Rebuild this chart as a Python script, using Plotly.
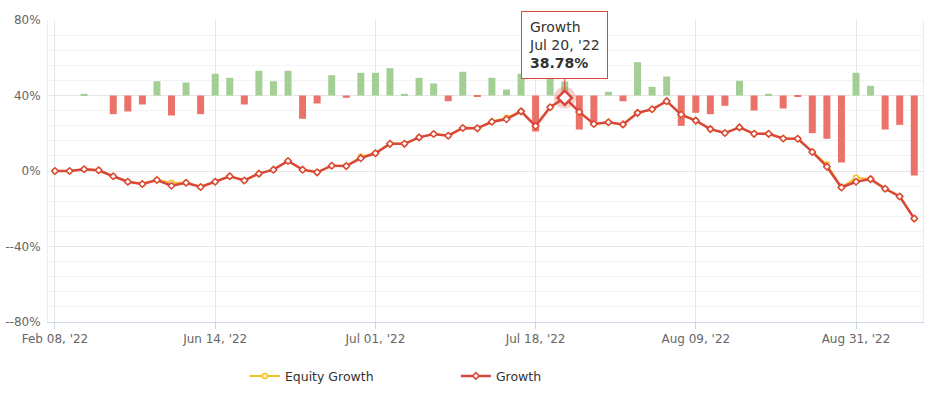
import plotly.graph_objects as go

# ---------------- data ----------------
dates = [
    "Feb 08, '22", "May 31, '22", "Jun 01, '22", "Jun 02, '22", "Jun 03, '22", "Jun 06, '22",
    "Jun 07, '22", "Jun 08, '22", "Jun 09, '22", "Jun 10, '22", "Jun 13, '22",
    "Jun 14, '22", "Jun 15, '22", "Jun 16, '22", "Jun 17, '22", "Jun 21, '22", "Jun 22, '22",
    "Jun 23, '22", "Jun 27, '22", "Jun 28, '22", "Jun 29, '22", "Jun 30, '22",
    "Jul 01, '22", "Jul 04, '22", "Jul 05, '22", "Jul 06, '22", "Jul 07, '22", "Jul 08, '22",
    "Jul 11, '22", "Jul 12, '22", "Jul 13, '22", "Jul 14, '22", "Jul 15, '22",
    "Jul 18, '22", "Jul 19, '22", "Jul 20, '22", "Jul 21, '22", "Jul 22, '22", "Jul 26, '22",
    "Jul 27, '22", "Jul 28, '22", "Aug 01, '22", "Aug 03, '22", "Aug 05, '22",
    "Aug 09, '22", "Aug 10, '22", "Aug 11, '22", "Aug 12, '22", "Aug 15, '22", "Aug 17, '22",
    "Aug 19, '22", "Aug 22, '22", "Aug 24, '22", "Aug 26, '22", "Aug 29, '22",
    "Aug 31, '22", "Sep 01, '22", "Sep 02, '22", "Sep 05, '22", "Sep 06, '22",
]

growth = [
    0.0, 0.0, 0.9, 0.4, -2.8, -5.7, -6.9, -4.8, -7.8, -6.2, -8.5,
    -5.7, -2.8, -5.0, -1.4, 0.7, 5.3, 0.7, -0.7, 2.8, 2.6,
    6.8, 9.4, 14.4, 14.4, 17.8, 19.6, 18.7, 22.8, 22.6, 26.1,
    27.4, 31.6, 23.8, 33.8, 38.78, 31.3, 24.9, 25.8, 24.7, 30.8,
    32.7, 37.0, 29.9, 26.7, 22.2, 20.1, 23.1, 19.7, 19.7, 17.2,
    17.1, 10.1, 2.3, -8.7, -5.7, -4.3, -9.4, -13.5, -25.2,
]

equity_growth = [
    0.0, 0.0, 0.9, 0.4, -2.8, -5.7, -6.9, -4.8, -6.2, -6.2, -8.5,
    -5.7, -2.8, -5.0, -1.4, 0.7, 5.3, 0.7, -0.7, 2.8, 2.6,
    7.6, 9.4, 14.4, 14.4, 17.8, 19.6, 18.7, 22.8, 22.6, 26.1,
    28.2, 31.6, 23.8, 33.8, 38.78, 31.3, 24.9, 25.8, 24.7, 30.8,
    32.7, 37.0, 29.9, 26.7, 22.2, 20.1, 23.1, 19.7, 19.7, 17.2,
    17.1, 10.1, 3.4, -8.7, -3.6, -4.3, -9.4, -13.5, -25.2,
]

daily_gain = [
    0.0, 0.0, 0.27, 0.0, -2.97, -2.54, -1.43, 2.27, -3.18, 2.07, -2.97,
    3.45, 2.81, -1.43, 3.93, 2.27, 3.93, -3.70, -1.27, 3.23, -0.37,
    3.61, 3.61, 4.34, 0.27, 2.81, 1.91, -0.91, 3.77, -0.16, 2.81,
    0.95, 3.45, -5.72, 3.45, 2.23, -5.41, -4.77, 0.59, -0.91, 5.29,
    1.38, 3.02, -4.82, -2.75, -2.97, -1.64, 2.34, -2.38, 0.27, -2.07,
    -0.16, -5.99, -6.88, -10.65, 3.61, 1.54, -5.41, -4.66, -12.72,
]

tick_idx = [0, 11, 22, 33, 44, 55]
y_tickvals = [80, 40, 0, -40, -80]
y_ticktext = ["80%", "40%", "0%", "--40%", "--80%"]
hover_idx = 35

# ---------------- style ----------------
FONT = "DejaVu Sans, Lucida Grande, Arial, sans-serif"
RED_LINE = "#d9463a"
YELLOW = "#f5bf26"
GREEN_BAR = "rgb(163,207,148)"
RED_BAR = "rgb(234,114,104)"

bar_colors = [GREEN_BAR if v >= 0 else RED_BAR for v in daily_gain]

fig = go.Figure()

fig.add_trace(go.Bar(
    x=dates, y=daily_gain, yaxis="y", marker=dict(color=bar_colors, line=dict(width=0)),
    width=0.48, showlegend=False, hoverinfo="skip", name="Daily",
))

fig.add_trace(go.Scatter(
    x=dates, y=equity_growth, yaxis="y2", mode="lines+markers", name="Equity Growth",
    line=dict(color=YELLOW, width=2),
    marker=dict(symbol="circle", size=5, color="white", line=dict(color=YELLOW, width=1.5)),
))

fig.add_trace(go.Scatter(
    x=[dates[hover_idx]], y=[growth[hover_idx]], yaxis="y2", mode="markers",
    marker=dict(size=22, color="rgba(217,70,58,0.25)"), showlegend=False, hoverinfo="skip",
))

fig.add_trace(go.Scatter(
    x=dates, y=growth, yaxis="y2", mode="lines+markers", name="Growth",
    line=dict(color=RED_LINE, width=2.5),
    marker=dict(symbol="diamond", size=5, color="white", line=dict(color=RED_LINE, width=1.5)),
))

fig.add_trace(go.Scatter(
    x=[dates[hover_idx]], y=[growth[hover_idx]], yaxis="y2", mode="markers",
    marker=dict(symbol="diamond", size=11, color="white", line=dict(color=RED_LINE, width=2.5)),
    showlegend=False, hoverinfo="skip",
))

fig.add_annotation(
    x=dates[hover_idx], y=growth[hover_idx], xref="x", yref="y2",
    text=f"Growth<br>{dates[hover_idx]}<br><b>{growth[hover_idx]:.2f}%</b>",
    align="left", showarrow=True, arrowhead=0, arrowcolor=RED_LINE, arrowwidth=1,
    ax=0, ay=-53, standoff=7,
    bgcolor="white", bordercolor=RED_LINE, borderwidth=1, borderpad=7,
    font=dict(family=FONT, size=14, color="#333333"),
)

fig.update_layout(
    width=946, height=398,
    margin=dict(l=48, r=23, t=20, b=76, autoexpand=False),
    paper_bgcolor="white", plot_bgcolor="white",
    font=dict(family=FONT, size=12, color="#666666"),
    xaxis=dict(
        type="category", categoryorder="array", categoryarray=dates,
        range=[-0.48, 59.6], automargin=False,
        tickvals=[dates[i] for i in tick_idx], ticktext=[dates[i] for i in tick_idx],
        showgrid=True, gridcolor="#e6e6e6", gridwidth=1,
        showline=True, linecolor="#ccd6eb", linewidth=1,
        ticks="outside", ticklen=6, tickcolor="#ccd6eb",
        tickfont=dict(family=FONT, size=12, color="#666666"),
        fixedrange=True,
    ),
    yaxis=dict(
        range=[-36, 12], visible=False, showgrid=False, zeroline=False, fixedrange=True,
        automargin=False,
    ),
    yaxis2=dict(
        overlaying="y", side="left", range=[-80, 80], automargin=False,
        tickmode="array", tickvals=y_tickvals, ticktext=y_ticktext,
        showgrid=True, gridcolor="#e6e6e6", gridwidth=1, zeroline=False,
        minor=dict(tickmode="linear", tick0=0, dtick=8, showgrid=True, gridcolor="#f3f3f3", gridwidth=1),
        showline=True, mirror=True, linecolor="#ececec", linewidth=1,
        ticks="", ticklabelstandoff=4,
        tickfont=dict(family=FONT, size=12, color="#666666"),
        fixedrange=True,
    ),
    legend=dict(
        orientation="h", x=0.225, xanchor="left", y=-0.13, yanchor="top",
        entrywidth=166, entrywidthmode="pixels",
        font=dict(family=FONT, size=12.5, color="#333333"),
        bgcolor="rgba(0,0,0,0)",
    ),
    bargap=0.5,
    hovermode=False,
)

fig.write_html(
    "out.html",
    config={"displayModeBar": False},
    post_script="document.body.style.margin='0';",
)
